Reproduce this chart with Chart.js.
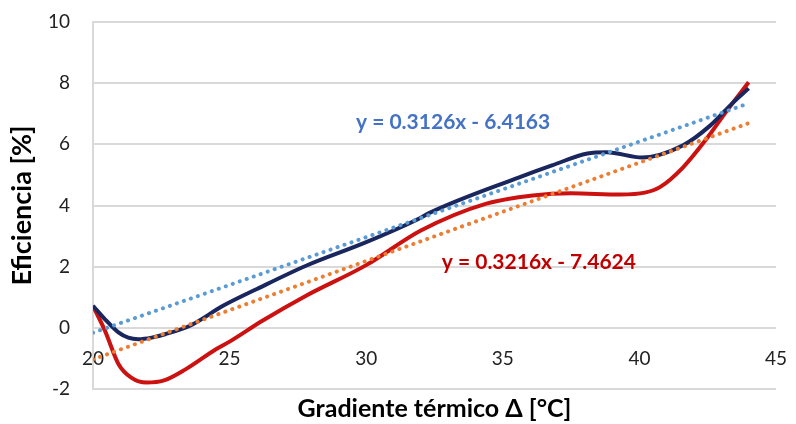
<!DOCTYPE html>
<html>
<head>
<meta charset="utf-8">
<script src="https://cdn.jsdelivr.net/npm/chart.js@4.4.0/dist/chart.umd.min.js"></script>
<style>
  html, body { margin: 0; padding: 0; background: #fff; }
  #wrap { width: 796px; height: 424px; }
</style>
</head>
<body>
<div id="wrap"><canvas id="chart" width="796" height="424"></canvas></div>
<script>
// -------- datos --------
const xTicks = [20, 25, 30, 35, 40, 45];
const yTicks = [-2, 0, 2, 4, 6, 8, 10];

// curva azul oscuro
const navyX = [20, 20.44, 20.93, 21.29, 21.66, 22.15, 22.64, 23.55, 24.76, 26, 27.8, 30, 32, 32.3, 35.6, 36.8, 38.1, 38.8, 40.1, 41.6, 42.6, 43.4, 44];
const navyY = [0.72, 0.28, -0.15, -0.32, -0.37, -0.32, -0.21, 0.07, 0.72, 1.27, 2.03, 2.8, 3.6, 3.75, 4.92, 5.31, 5.7, 5.74, 5.57, 5.97, 6.62, 7.34, 7.83];

// curva roja
const redX = [20, 20.44, 20.93, 21.4, 21.96, 22.6, 23.4, 24.5, 25, 26.2, 27.8, 30, 32, 34.4, 36.1, 37.5, 39.3, 40.2, 40.75, 41.6, 42.5, 43.2, 44];
const redY = [0.72, -0.1, -1.18, -1.63, -1.79, -1.72, -1.35, -0.7, -0.45, 0.23, 1.05, 2.05, 3.18, 4.06, 4.33, 4.4, 4.36, 4.42, 4.6, 5.25, 6.23, 7.1, 8.03];

// líneas de tendencia (extremos)
const trendX = [20, 44];
const trendBlueY = [-0.16, 7.34];
const trendOrangeY = [-1.03, 6.69];

const eqLabels = [
  { text: "y = 0.3126x - 6.4163", x: 33.18, y: 6.72, color: "#4472c4" },
  { text: "y = 0.3216x - 7.4624", x: 36.32, y: 2.13, color: "#c00000" }
];

const pts = (xs, ys) => xs.map((x, i) => ({ x, y: ys[i] }));
const FONT = "Lato, 'Open Sans', sans-serif";

// etiquetas de ecuaciones
const eqPlugin = {
  id: "eqLabels",
  afterDatasetsDraw(chart) {
    const { ctx, scales } = chart;
    ctx.save();
    ctx.font = `bold 21px ${FONT}`;
    ctx.textAlign = "center";
    ctx.textBaseline = "middle";
    for (const l of eqLabels) {
      ctx.fillStyle = l.color;
      ctx.fillText(l.text, scales.x.getPixelForValue(l.x), scales.y.getPixelForValue(l.y));
    }
    ctx.restore();
  }
};

const dotted = { borderWidth: 4, borderDash: [0.1, 7.3], borderCapStyle: "round", pointRadius: 0, fill: false };
const solid = { borderWidth: 4, pointRadius: 0, fill: false, cubicInterpolationMode: "monotone" };

new Chart(document.getElementById("chart").getContext("2d"), {
  type: "line",
  data: {
    datasets: [
      { ...dotted, data: pts(trendX, trendBlueY), borderColor: "#5b9bd5", xAxisID: "x", yAxisID: "y" },
      { ...dotted, data: pts(trendX, trendOrangeY), borderColor: "#ed7d31", xAxisID: "x", yAxisID: "y" },
      { ...solid, data: pts(navyX, navyY), borderColor: "#1a275f", xAxisID: "x", yAxisID: "y" },
      { ...solid, data: pts(redX, redY), borderColor: "#cc1111", xAxisID: "x", yAxisID: "y" }
    ]
  },
  options: {
    responsive: false,
    animation: false,
    layout: { padding: { top: 22, right: 20, bottom: 0, left: 0 } },
    plugins: { legend: { display: false }, tooltip: { enabled: false } },
    scales: {
      x: {
        type: "linear",
        position: { y: 0 },
        min: xTicks[0],
        max: xTicks[xTicks.length - 1],
        afterBuildTicks: (s) => { s.ticks = xTicks.map(v => ({ value: v })); },
        afterFit: (s) => { s.paddingLeft = 0; s.paddingRight = 0; },
        grid: { display: false, drawTicks: false },
        border: { display: false },
        ticks: { color: "#222", font: { family: FONT, size: 19 }, padding: 20, maxRotation: 0 }
      },
      x2: {
        type: "linear",
        axis: "x",
        position: "bottom",
        min: xTicks[0],
        max: xTicks[xTicks.length - 1],
        grid: { display: false },
        border: { display: false },
        ticks: { display: false },
        afterFit: (s) => { s.height = 35; s.paddingLeft = 0; s.paddingRight = 0; },
        title: {
          display: true,
          text: "Gradiente térmico Δ [°C]",
          color: "#000",
          font: { family: FONT, size: 25, weight: "bold" },
          padding: { top: 0, bottom: 0 }
        }
      },
      y: {
        type: "linear",
        min: yTicks[0],
        max: yTicks[yTicks.length - 1],
        afterBuildTicks: (s) => { s.ticks = yTicks.map(v => ({ value: v })); },
        afterFit: (s) => { s.width = 93; s.paddingTop = 0; s.paddingBottom = 0; },
        grid: { color: "#d9d9d9", lineWidth: 2, drawTicks: false },
        border: { display: true, color: "#d9d9d9", width: 2 },
        ticks: { color: "#222", font: { family: FONT, size: 19 }, padding: 23 },
        title: {
          display: true,
          text: "Eficiencia [%]",
          color: "#000",
          font: { family: FONT, size: 27, weight: "bold" },
          padding: { top: 6, bottom: 0 }
        }
      }
    }
  },
  plugins: [eqPlugin]
});
</script>
</body>
</html>
